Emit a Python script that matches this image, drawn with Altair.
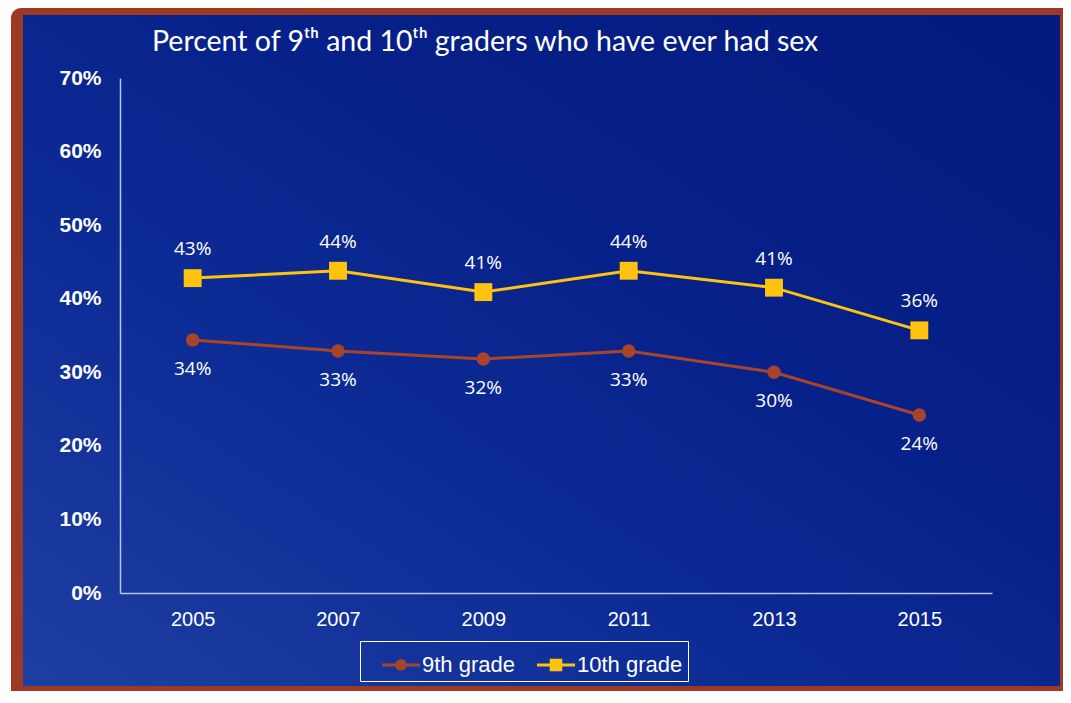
import altair as alt
import pandas as pd

years = ["2005", "2007", "2009", "2011", "2013", "2015"]
grade9 = [34.4, 32.9, 31.8, 32.9, 30.0, 24.2]
grade10 = [42.8, 43.8, 40.9, 43.8, 41.5, 35.7]
labels9 = ["34%", "33%", "32%", "33%", "30%", "24%"]
labels10 = ["43%", "44%", "41%", "44%", "41%", "36%"]
series = ["9th grade", "10th grade"]
colors = ["#A8442A", "#FFC20E"]
y_ticks = [0, 10, 20, 30, 40, 50, 60, 70]
title_text = "Percent of 9ᵗʰ and 10ᵗʰ graders who have ever had sex"

rows = []
for i, yr in enumerate(years):
    rows.append(dict(year=yr, series=series[0], value=grade9[i], label=labels9[i]))
    rows.append(dict(year=yr, series=series[1], value=grade10[i], label=labels10[i]))
df = pd.DataFrame(rows)
one = pd.DataFrame({"k": [0]})

AX = "#B8C4E6"
x_enc = alt.X("year:O", scale=alt.Scale(type="point", padding=0.5),
              axis=alt.Axis(title=None, labelAngle=0, ticks=False, grid=False,
                            domainColor=AX, domainWidth=1.5, labelColor="white",
                            labelFont="Liberation Sans", labelFontSize=20,
                            labelPadding=16, zindex=1))
y_enc = alt.Y("value:Q", scale=alt.Scale(domain=[0, 70], nice=False),
              axis=alt.Axis(title=None, values=y_ticks, labelExpr="datum.value + '%'",
                            ticks=False, grid=False, domainColor=AX, domainWidth=1.5,
                            labelColor="white", labelFont="Liberation Sans",
                            labelFontSize=21, labelFontWeight="bold",
                            labelPadding=19, zindex=1))

brown = alt.Chart(one).mark_rect(color="#9C3A24", cornerRadiusTopLeft=10).encode(
    x=alt.value(-109), x2=alt.value(943), y=alt.value(-70), y2=alt.value(613))

grad = alt.LinearGradient(
    gradient="linear", x1=0, y1=1, x2=1, y2=0,
    stops=[alt.GradientStop(color="#1E3FA2", offset=0.0),
           alt.GradientStop(color="#0F2E98", offset=0.3),
           alt.GradientStop(color="#07218A", offset=0.6),
           alt.GradientStop(color="#031A7E", offset=1.0)])
blue = alt.Chart(one).mark_rect(fill=grad).encode(
    x=alt.value(-97), x2=alt.value(940), y=alt.value(-63), y2=alt.value(608))

d9 = alt.Chart(df).transform_filter(alt.datum.series == series[0]).encode(x=x_enc, y=y_enc)
d10 = alt.Chart(df).transform_filter(alt.datum.series == series[1]).encode(x=x_enc, y=y_enc)

line9 = d9.mark_line(strokeWidth=3, color=colors[0])
line10 = d10.mark_line(strokeWidth=3, color=colors[1])
circles = d9.mark_circle(size=180, opacity=1, color=colors[0])
squares = d10.mark_square(size=320, opacity=1, color=colors[1])
lab10 = d10.mark_text(dy=-29, color="white", font="Open Sans", fontSize=19).encode(text="label:N")
lab9 = d9.mark_text(dy=29, color="white", font="Open Sans", fontSize=19).encode(text="label:N")

title = alt.Chart(one).mark_text(align="left", baseline="middle", color="white",
                                 font="Lato", fontSize=28.5).encode(
    x=alt.value(32), y=alt.value(-36), text=alt.value(title_text))

p9 = "M-1,-0.08H1V0.08H-1Z M0.3,0A0.3,0.3 0 1,1 -0.3,0A0.3,0.3 0 1,1 0.3,0Z"
p10 = "M-1,-0.08H1V0.08H-1Z M-0.33,-0.33H0.33V0.33H-0.33Z"
legend_def = alt.Legend(title=None, orient="none", legendX=240, legendY=563,
                        direction="horizontal", strokeColor="white",
                        padding=5, labelColor="white", labelFont="Liberation Sans",
                        labelFontSize=22, symbolSize=1444, symbolStrokeWidth=0,
                        symbolOpacity=1, symbolOffset=17, columnPadding=5, labelOffset=2)
leg = alt.Chart(df).mark_point(filled=True, opacity=0).encode(
    color=alt.Color("series:N", scale=alt.Scale(domain=series, range=colors), legend=legend_def),
    shape=alt.Shape("series:N", scale=alt.Scale(domain=series, range=[p9, p10]), legend=legend_def))

chart = alt.layer(brown, blue, line9, line10, circles, squares, lab10, lab9, title, leg).properties(
    width=872, height=515,
    autosize=alt.AutoSizeParams(type="none"),
    padding={"left": 112, "top": 70, "right": 71, "bottom": 98},
    background="white",
).configure_view(stroke=None)

chart.save("out.html", embed_options={"renderer": "svg", "actions": False})
